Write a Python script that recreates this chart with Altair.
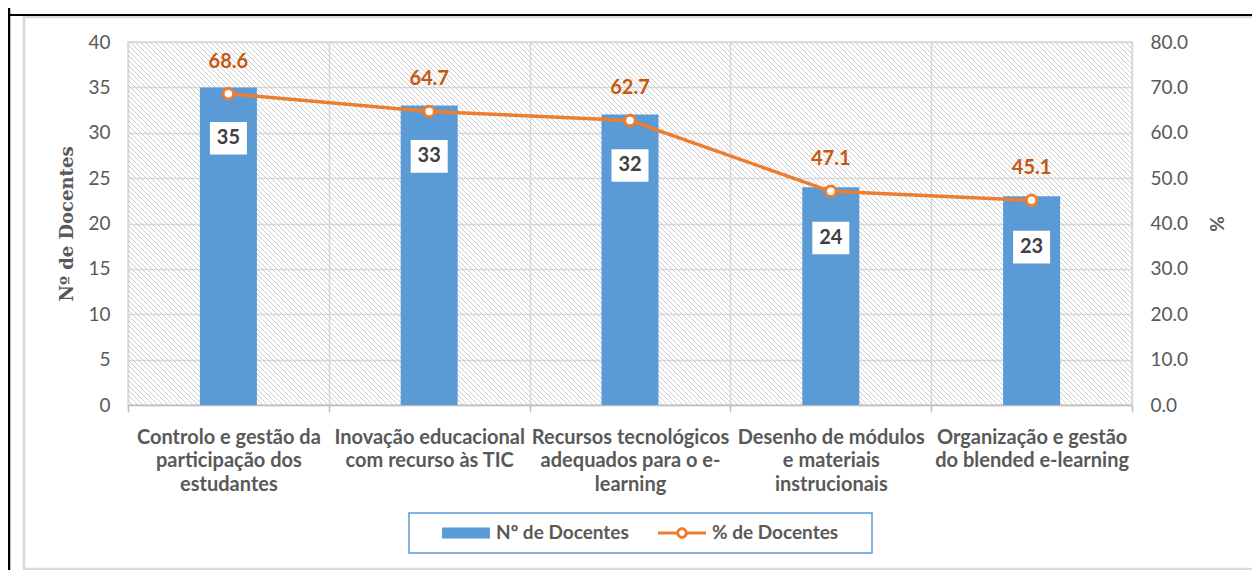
import altair as alt
import pandas as pd

# ---------------- data ----------------
categories = [
    "Controlo e gestão da participação dos estudantes",
    "Inovação educacional com recurso às TIC",
    "Recursos tecnológicos adequados para o e-learning",
    "Desenho de módulos e materiais instrucionais",
    "Organização e gestão do blended e-learning",
]
label_lines = [
    ["Controlo e gestão da", "participação dos", "estudantes"],
    ["Inovação educacional", "com recurso às TIC"],
    ["Recursos tecnológicos", "adequados para o e-", "learning"],
    ["Desenho de módulos", "e materiais", "instrucionais"],
    ["Organização e gestão", "do blended e-learning"],
]
n_docentes = [35, 33, 32, 24, 23]
pct_docentes = [68.6, 64.7, 62.7, 47.1, 45.1]
series = ["Nº de Docentes", "% de Docentes"]
left_ticks = [0, 5, 10, 15, 20, 25, 30, 35, 40]
right_ticks = [0, 10, 20, 30, 40, 50, 60, 70, 80]

df = pd.DataFrame({"cat": categories, "n": n_docentes, "pct": pct_docentes})

W, H = 1004, 363
BLUE = "#5b9bd5"
ORANGE = "#ed7d31"
GRID = "#d9d9d9"
TXT = "#595959"
FONT = "Lato"

# multi-line category labels
expr = "''"
for c, lines in reversed(list(zip(categories, label_lines))):
    arr = "[" + ",".join("'" + l + "'" for l in lines) + "]"
    expr = f"datum.value == '{c}' ? {arr} : ({expr})"

x_enc = alt.X(
    "cat:N", sort=categories,
    scale=alt.Scale(paddingInner=0, paddingOuter=0),
    axis=alt.Axis(
        title=None, labelAngle=0, labelExpr=expr, tickBand="extent",
        grid=True, gridColor=GRID, gridWidth=1.5,
        domainColor="#bfbfbf", domainWidth=1.5, tickColor="#bfbfbf", tickWidth=1.5, tickSize=7,
        labelFont=FONT, labelFontSize=20, labelFontWeight="bold", labelColor=TXT,
        labelLineHeight=23.5, labelPadding=15, labelLimit=300,
    ),
)

# hatch background of plot area
hatch = (
    alt.Chart(alt.sequence(0, W + H, 5, as_="s"))
    .transform_calculate(hx1=f"datum.s - {H}", hx2="datum.s", hy1="0", hy2=f"{H}")
    .mark_rule(clip=True, color="#cccccc", strokeWidth=1)
    .encode(
        x=alt.X("hx1:Q", scale=None), x2="hx2:Q",
        y=alt.Y("hy1:Q", scale=None), y2="hy2:Q",
    )
)

legend = alt.Legend(
    title=None, orient="none", legendX=314, legendY=467, direction="horizontal",
    symbolType={"expr": "datum.value == '% de Docentes' ? "
                "'M-1,-0.06H-0.2V0.06H-1Z M0.2,-0.06H1V0.06H0.2Z "
                "M0.24,0A0.24,0.24 0 1 1 -0.24,0A0.24,0.24 0 1 1 0.24,0Z "
                "M0.12,0A0.12,0.12 0 1 0 -0.12,0A0.12,0.12 0 1 0 0.12,0Z' : "
                "'M-1,-0.23H1V0.23H-1Z'"},
    symbolSize=2304, symbolStrokeWidth=0, symbolOpacity=1,
    labelFont=FONT, labelFontSize=19, labelFontWeight="bold", labelColor=TXT,
    labelOffset=6, columnPadding=29, padding=0,
)
color_scale = alt.Scale(domain=series, range=[BLUE, ORANGE])

left_axis = alt.Axis(
    values=left_ticks, title="Nº de Docentes", grid=True, gridColor=GRID, gridWidth=1.5,
    domain=False, ticks=False, labelPadding=18,
    labelFont=FONT, labelFontSize=19, labelColor=TXT,
    titleFont="DejaVu Serif", titleFontSize=18, titleFontWeight="bold", titleColor=TXT,
    titlePadding=11,
)
left_scale = alt.Scale(domain=[0, 40])

right_axis = alt.Axis(
    orient="right", values=right_ticks, format=".1f", title="%", grid=False,
    domain=False, ticks=False, labelPadding=18,
    labelFont=FONT, labelFontSize=19, labelColor=TXT,
    titleFont=FONT, titleFontSize=19, titleFontWeight="bold", titleColor=TXT,
    titlePadding=40, titleAngle=270,
)
right_scale = alt.Scale(domain=[0, 80])

base = alt.Chart(df)

bars = base.transform_calculate(series=f"'{series[0]}'").mark_bar(size=57).encode(
    x=x_enc, y=alt.Y("n:Q", scale=left_scale, axis=left_axis),
    color=alt.Color("series:N", scale=color_scale, legend=legend),
)
boxes = base.transform_calculate(ly="datum.n - 5.6").mark_point(
    shape="M-1,-0.88H1V0.88H-1Z", size=1369, filled=True, fill="white", opacity=1, strokeWidth=0
).encode(x=x_enc, y=alt.Y("ly:Q", scale=left_scale, axis=left_axis))
bar_text = base.transform_calculate(ly="datum.n - 5.6").mark_text(
    font=FONT, fontSize=20, fontWeight="bold", color="#404040", baseline="middle"
).encode(x=x_enc, y=alt.Y("ly:Q", scale=left_scale, axis=left_axis), text="n:Q")

left = alt.layer(bars, boxes, bar_text)

line = base.transform_calculate(series=f"'{series[1]}'").mark_line(strokeWidth=3.5).encode(
    x=x_enc, y=alt.Y("pct:Q", scale=right_scale, axis=right_axis),
    color=alt.Color("series:N", scale=color_scale, legend=legend),
)
points = base.mark_point(
    shape="circle", size=110, filled=True, fill="white", stroke=ORANGE, strokeWidth=3, opacity=1
).encode(x=x_enc, y=alt.Y("pct:Q", scale=right_scale, axis=right_axis))
line_text = base.mark_text(
    dy=-32, font=FONT, fontSize=20, fontWeight="bold", color="#c65911"
).encode(x=x_enc, y=alt.Y("pct:Q", scale=right_scale, axis=right_axis),
         text=alt.Text("pct:Q", format=".1f"))

right = alt.layer(line, points, line_text)

# decorative frames (pixel positions relative to plot origin)
one = alt.Data(values=[{"k": 1}])
gray_frame = alt.Chart(one).mark_rect(fill=None, stroke=GRID, strokeWidth=2.5).encode(
    x=alt.value(-104), x2=alt.value(1129), y=alt.value(-25), y2=alt.value(527)
)
black_left = alt.Chart(one).mark_rule(color="black", strokeWidth=2.5).encode(
    x=alt.value(-119), y=alt.value(-34), y2=alt.value(536)
)
black_top = alt.Chart(one).mark_rule(color="black", strokeWidth=2).encode(
    x=alt.value(-120), x2=alt.value(1131), y=alt.value(-27)
)
legend_box = alt.Chart(one).mark_rect(fill="white", stroke=BLUE, strokeWidth=1.5).encode(
    x=alt.value(281), x2=alt.value(744), y=alt.value(471), y2=alt.value(511)
)

chart = (
    alt.layer(gray_frame, black_left, black_top, legend_box, hatch, left, right)
    .resolve_scale(y="independent")
    .properties(
        width=W, height=H, autosize="none",
        padding={"left": 120, "top": 34, "right": 120, "bottom": 165},
        background="white",
    )
    .configure_view(stroke=GRID, strokeWidth=1.5)
)

chart.save("out.html", embed_options={"renderer": "svg", "actions": False})
